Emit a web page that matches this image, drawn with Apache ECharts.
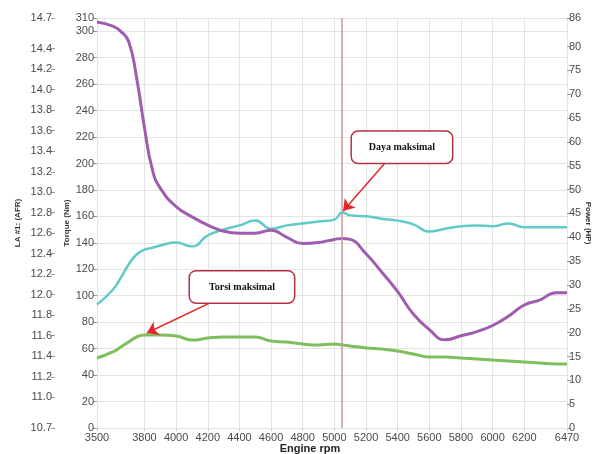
<!DOCTYPE html>
<html>
<head>
<meta charset="utf-8">
<script src="https://cdn.jsdelivr.net/npm/echarts@6/dist/echarts.min.js"></script>
<style>
html,body{margin:0;padding:0;background:#fff;}
#chart{width:593px;height:454px;}
</style>
</head>
<body>
<div id="chart"></div>
<script>
// Engine speed samples (rpm)
const rpm = [3500,3600,3650,3700,3750,3800,3850,3900,4000,4100,4200,4300,4400,4500,4600,4700,4800,4900,5000,5050,5100,5200,5300,5400,5500,5600,5700,5800,5900,6000,6100,6200,6300,6400,6470];
// Torque (Nm) - green
const torque = [52.9,57.5,61.2,65.0,68.8,70.3,70.3,70.3,69.6,66.5,68.0,68.8,68.8,68.8,65.8,65.0,63.5,62.8,63.5,62.8,62.0,60.5,59.7,58.2,55.9,53.7,53.7,52.9,52.2,51.4,50.7,49.9,49.1,48.4,48.4];
// Power (HP) - cyan
const power = [25.9,29.0,31.5,34.3,36.4,37.4,37.8,38.3,38.9,38.1,40.4,41.6,42.5,43.5,41.8,42.5,42.9,43.3,43.7,45.2,44.6,44.4,43.9,43.5,42.7,41.2,41.8,42.3,42.5,42.3,42.9,42.1,42.1,42.1,42.1];
// Air-fuel ratio - purple
const afr = [14.66,14.62,14.57,14.47,14.12,13.63,13.22,13.04,12.86,12.76,12.68,12.62,12.60,12.60,12.63,12.56,12.50,12.51,12.54,12.55,12.54,12.40,12.22,12.03,11.81,11.66,11.56,11.60,11.64,11.70,11.79,11.90,11.95,12.02,12.02];

// Tick values
const rpmTicks = [3500,3800,4000,4200,4400,4600,4800,5000,5200,5400,5600,5800,6000,6200,6470];
const torqueTicks = [0,20,40,60,80,100,120,140,160,180,200,220,240,260,280,300,310];
const afrTicks = [10.7,11.0,11.2,11.4,11.6,11.8,12.0,12.2,12.4,12.6,12.8,13.0,13.2,13.4,13.6,13.8,14.0,14.2,14.4,14.7];
const powerTicks = [0,5,10,15,20,25,30,35,40,45,50,55,60,65,70,75,80,86];

// Annotations
const maxPowerRpm = 5050;
const maxPowerHp = 45.2;
const maxTorqueRpm = 3800;
const maxTorqueNm = 70.3;

const chart = echarts.init(document.getElementById('chart'));
const labelStyle = {color:'#4a4a4a', fontSize:11, fontFamily:'Liberation Sans, Arial, sans-serif'};
const tickStyle = {show:true, length:4, lineStyle:{color:'#999', width:1}};
const gridLine = {show:true, lineStyle:{color:'#e4e4e4', width:1}};
const nameStyle = {color:'#333', fontSize:8, fontWeight:'bold', fontFamily:'Liberation Sans, Arial, sans-serif'};

function boxLabel(text, w){
  return {show:true, position:'inside', formatter:text, color:'#111',
    fontFamily:'Liberation Serif, Times New Roman, serif', fontWeight:'bold', fontSize:10,
    backgroundColor:'#ffffff', borderColor:'#b23240', borderWidth:1.5, borderRadius:6,
    width:w, align:'center', lineHeight:11, padding:[10,12]};
}
const arrowStyle = {color:'#e5262a', width:1.5, type:'solid'};

chart.setOption({
  animation:false,
  grid:{left:97, right:26, top:18, bottom:26, outerBoundsMode:'none', containLabel:false},
  xAxis:{
    type:'value', min:3500, max:6470,
    name:'Engine rpm', nameLocation:'middle', nameGap:15, nameMoveOverlap:false,
    nameTextStyle:{color:'#222', fontSize:11, fontWeight:'bold', fontFamily:'Liberation Sans, Arial, sans-serif', padding:[0,44,0,0]},
    axisLine:{show:false},
    axisTick:{show:true, length:3, customValues:rpmTicks, lineStyle:{color:'#ccc'}},
    axisLabel:Object.assign({customValues:rpmTicks, margin:4, formatter:v=>String(v)}, labelStyle),
    splitLine:gridLine
  },
  yAxis:[
    {
      type:'value', position:'left', min:0, max:310,
      name:'Torque (Nm)', nameLocation:'middle', nameGap:26, nameRotate:90, nameMoveOverlap:false,
      nameTextStyle:nameStyle,
      axisLine:{show:false},
      axisTick:Object.assign({customValues:torqueTicks}, tickStyle),
      axisLabel:Object.assign({customValues:torqueTicks, margin:3, formatter:v=>String(v)}, labelStyle),
      splitLine:gridLine
    },
    {
      type:'value', position:'left', offset:42, min:10.7, max:14.7,
      name:'LA #1: (AFR)', nameLocation:'middle', nameGap:33, nameRotate:90, nameMoveOverlap:false,
      nameTextStyle:nameStyle,
      axisLine:{show:false},
      axisTick:Object.assign({customValues:afrTicks}, tickStyle),
      axisLabel:Object.assign({customValues:afrTicks, margin:3, formatter:v=>v.toFixed(1)}, labelStyle),
      splitLine:{show:false}
    },
    {
      type:'value', position:'right', min:0, max:86,
      name:'Power (HP)', nameLocation:'middle', nameGap:17, nameRotate:-90, nameMoveOverlap:false,
      nameTextStyle:nameStyle,
      axisLine:{show:false},
      axisTick:Object.assign({customValues:powerTicks}, tickStyle),
      axisLabel:Object.assign({customValues:powerTicks, margin:2, formatter:v=>String(v)}, labelStyle),
      splitLine:{show:false}
    }
  ],
  series:[
    {
      name:'Torque', type:'line', yAxisIndex:0, smooth:true, symbol:'none',
      lineStyle:{color:'#7dbf5c', width:3}, itemStyle:{color:'#7dbf5c'},
      data:rpm.map((r,i)=>[r, torque[i]]),
      markPoint:{silent:true, symbol:'circle', symbolSize:1, itemStyle:{color:'rgba(0,0,0,0)'},
        label:boxLabel('Torsi maksimal', 80),
        data:[{coord:[4416,106.6]}]},
      markLine:{silent:true, symbol:['none','arrow'], symbolSize:11, lineStyle:arrowStyle, label:{show:false},
        data:[[{coord:[4290,99]},{coord:[maxTorqueRpm+15, maxTorqueNm+1.5]}]]}
    },
    {
      name:'Power', type:'line', yAxisIndex:2, smooth:true, symbol:'none',
      lineStyle:{color:'#62c9c9', width:2.5}, itemStyle:{color:'#62c9c9'},
      data:rpm.map((r,i)=>[r, power[i]]),
      markPoint:{silent:true, symbol:'circle', symbolSize:1, itemStyle:{color:'rgba(0,0,0,0)'},
        label:boxLabel('Daya maksimal', 76),
        data:[{coord:[5427,58.9]}]},
      markLine:{silent:true, symbol:['none','arrow'], symbolSize:11, lineStyle:arrowStyle, label:{show:false},
        data:[[{coord:[5320,55.6]},{coord:[maxPowerRpm+5, maxPowerHp+0.3]}]]}
    },
    {
      name:'AFR', type:'line', yAxisIndex:1, smooth:true, symbol:'none',
      lineStyle:{color:'#a05cae', width:3}, itemStyle:{color:'#a05cae'},
      data:rpm.map((r,i)=>[r, afr[i]]),
      markLine:{silent:true, symbol:['none','none'], lineStyle:{color:'#c99a9a', width:1.5, type:'solid'}, label:{show:false},
        data:[{xAxis:5045}]}
    }
  ]
});
</script>
</body>
</html>
